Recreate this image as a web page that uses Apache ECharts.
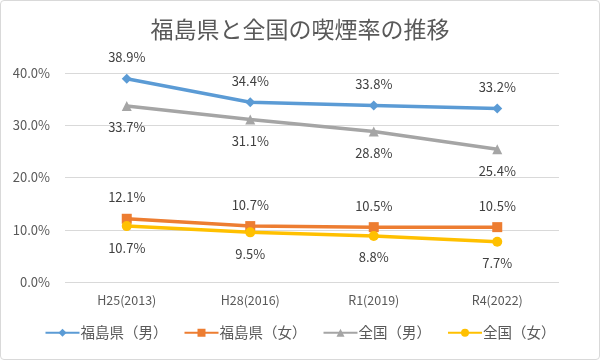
<!DOCTYPE html>
<html><head><meta charset="utf-8">
<script src="https://cdn.jsdelivr.net/npm/echarts@6/dist/echarts.min.js"></script>
<style>html,body{margin:0;padding:0;background:#fff}#c{width:600px;height:360px;box-sizing:border-box;border:1px solid #d9d9d9;border-radius:4px}</style>
</head><body><div id="c"></div>
<script>
const categories = ['H25(2013)', 'H28(2016)', 'R1(2019)', 'R4(2022)'];
const fukushimaMale = [38.9, 34.4, 33.8, 33.2];
const fukushimaFemale = [12.1, 10.7, 10.5, 10.5];
const nationalMale = [33.7, 31.1, 28.8, 25.4];
const nationalFemale = [10.7, 9.5, 8.8, 7.7];
const seriesNames = ['福島県（男）', '福島県（女）', '全国（男）', '全国（女）'];
const yTicks = [0, 10, 20, 30, 40];

const font = '"Noto Sans CJK JP", "Noto Sans", sans-serif';
const chart = echarts.init(document.getElementById('c'));
function mk(name, data, color, symbol, size, pos) {
  return {
    name, type: 'line', data, symbol, symbolSize: size,
    lineStyle: { color, width: 3.5 }, itemStyle: { color },
    label: { show: true, position: pos, distance: 10, formatter: p => p.value.toFixed(1) + '%', color: '#404040', fontSize: 13, fontFamily: font }
  };
}
chart.setOption({
  animation: false,
  title: { text: '福島県と全国の喫煙率の推移', left: 'center', top: 12, textStyle: { fontSize: 23, fontWeight: 'normal', color: '#595959', fontFamily: font } },
  grid: { left: 64, right: 40, top: 72, bottom: 77 },
  legend: {
    bottom: 14, left: 'center', itemWidth: 34, itemHeight: 10, itemGap: 16,
    textStyle: { fontSize: 14.5, color: '#595959', fontFamily: font, padding: [0, 0, 0, -4] },
    data: seriesNames
  },
  xAxis: {
    type: 'category', data: categories, boundaryGap: true,
    axisLine: { show: false }, axisTick: { show: false },
    axisLabel: { color: '#595959', fontSize: 12.5, fontFamily: font, margin: 12 }
  },
  yAxis: {
    type: 'value', min: yTicks[0], max: yTicks[yTicks.length - 1], interval: 10,
    axisLabel: { formatter: v => v.toFixed(1) + '%', color: '#595959', fontSize: 13, fontFamily: font, margin: 15 },
    splitLine: { lineStyle: { color: '#d9d9d9' } },
    axisLine: { show: false }, axisTick: { show: false }
  },
  series: [
    mk(seriesNames[0], fukushimaMale, '#5b9bd5', 'diamond', 10, 'top'),
    mk(seriesNames[1], fukushimaFemale, '#ed7d31', 'rect', 10, 'top'),
    mk(seriesNames[2], nationalMale, '#a5a5a5', 'triangle', 10, 'bottom'),
    mk(seriesNames[3], nationalFemale, '#ffc000', 'circle', 10, 'bottom')
  ]
});
</script></body></html>
